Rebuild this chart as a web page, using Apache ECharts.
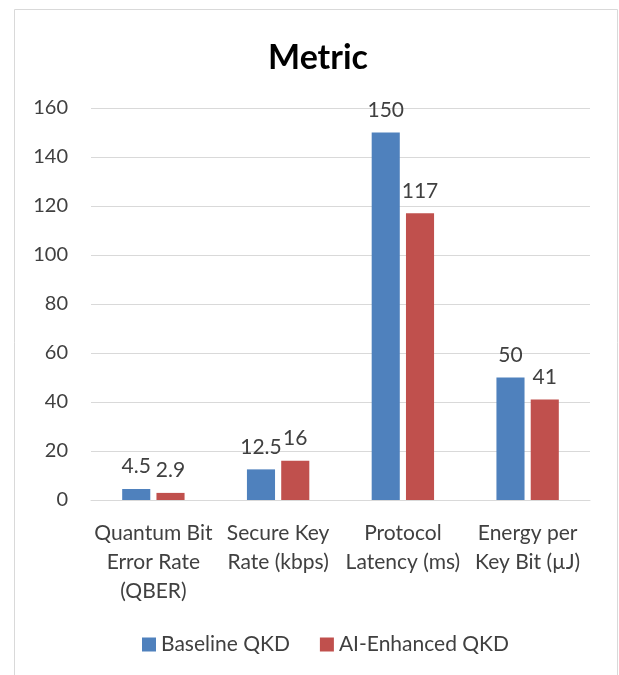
<!DOCTYPE html>
<html><head><meta charset="utf-8">
<script src="https://cdn.jsdelivr.net/npm/echarts@6/dist/echarts.min.js"></script>
<style>html,body{margin:0;padding:0;background:#fff}#c{width:619px;height:675px}</style>
</head><body><div id="c"></div>
<script>
const categories = ["Quantum Bit\nError Rate\n(QBER)", "Secure Key\nRate (kbps)", "Protocol\nLatency (ms)", "Energy per\nKey Bit (µJ)"];
const baseline = [4.5, 12.5, 150, 50];
const enhanced = [2.9, 16, 117, 41];
const seriesNames = ["Baseline QKD", "AI-Enhanced QKD"];
const FONT = 'Lato, "Liberation Sans Narrow", "Noto Sans", sans-serif';
const chart = echarts.init(document.getElementById('c'), null, {renderer: 'canvas'});
const lbl = {show: true, position: 'top', distance: 12, color: '#404040', fontSize: 21, fontFamily: FONT};
chart.setOption({
  animation: false,
  textStyle: {fontFamily: FONT},
  graphic: [{type: 'rect', shape: {x: 14.5, y: 9.5, width: 603, height: 700}, style: {fill: 'none', stroke: '#d9d9d9', lineWidth: 1}}],
  title: {text: 'Metric', left: 313, textAlign: 'center', top: 36, textStyle: {fontSize: 34, fontWeight: 'bold', color: '#000', fontFamily: FONT}},
  legend: {bottom: 15, left: 137, itemWidth: 14, itemHeight: 14, itemGap: 30, icon: 'rect',
    textStyle: {fontSize: 21, color: '#404040', fontFamily: FONT}, data: seriesNames},
  grid: {left: 91, right: 29, top: 108, bottom: 175},
  xAxis: {type: 'category', data: categories,
    axisLine: {lineStyle: {color: '#d9d9d9'}}, axisTick: {show: false},
    axisLabel: {color: '#404040', fontSize: 21, lineHeight: 29, margin: 19, interval: 0, fontFamily: FONT}},
  yAxis: {type: 'value', min: 0, max: 160, interval: 20,
    axisLine: {show: false}, axisTick: {show: false},
    splitLine: {lineStyle: {color: '#d9d9d9'}},
    axisLabel: {color: '#404040', fontSize: 20, margin: 23, fontFamily: FONT}},
  series: [
    {name: seriesNames[0], type: 'bar', data: baseline, itemStyle: {color: '#4f81bd'}, barGap: '22%', barCategoryGap: '50%', label: lbl},
    {name: seriesNames[1], type: 'bar', data: enhanced, itemStyle: {color: '#c0504d'}, label: lbl}
  ]
});
</script></body></html>
